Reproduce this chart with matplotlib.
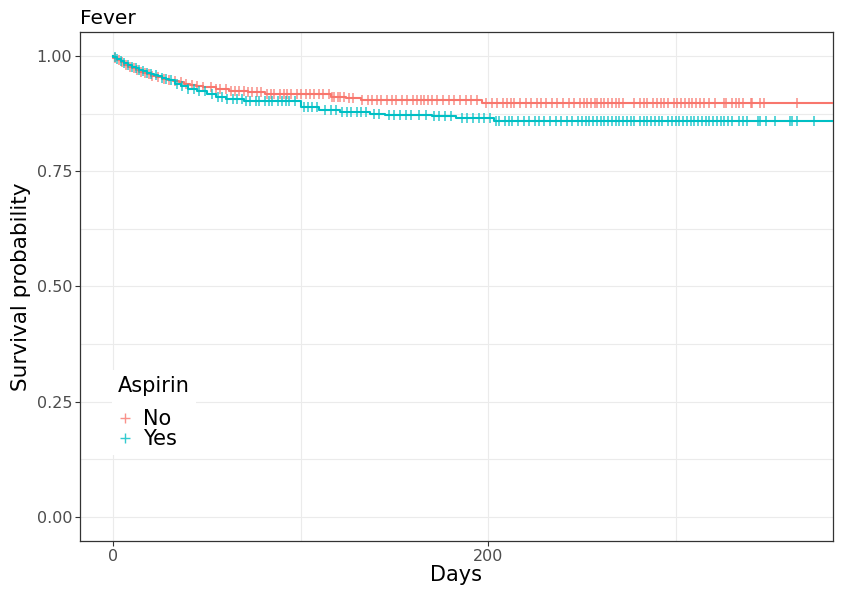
import numpy as np
import matplotlib.pyplot as plt
from matplotlib.lines import Line2D
from matplotlib.ticker import MultipleLocator

# step points of the two Kaplan-Meier curves (day, survival after the drop)
no_times = [0, 2, 4, 6, 8, 10, 12, 14, 16, 18, 20, 23, 26, 29, 32, 35, 38, 41, 44,
            48, 55, 62, 72, 81, 116, 124, 132, 197]
no_surv = [0.996, 0.991, 0.986, 0.981, 0.977, 0.973, 0.969, 0.966, 0.963, 0.960,
           0.957, 0.954, 0.951, 0.948, 0.946, 0.943, 0.940, 0.937, 0.935, 0.932,
           0.929, 0.925, 0.922, 0.918, 0.912, 0.908, 0.904, 0.897]

yes_times = [0, 2, 4, 6, 8, 10, 12, 14, 16, 18, 20, 22, 24, 26, 28, 30, 33, 36, 40,
             45, 50, 55, 60, 70, 100, 110, 121, 137, 145, 170, 183, 203]
yes_surv = [0.998, 0.993, 0.989, 0.985, 0.981, 0.977, 0.973, 0.970, 0.967, 0.964,
            0.961, 0.958, 0.956, 0.953, 0.951, 0.948, 0.940, 0.934, 0.929, 0.923,
            0.918, 0.912, 0.907, 0.902, 0.890, 0.883, 0.879, 0.875, 0.872, 0.869,
            0.865, 0.858]

# censored observations (days)
no_cens = [1, 3, 5, 7, 9, 11, 13, 15, 17, 19, 21, 24, 27, 30, 33, 36, 39, 42, 45, 48,
           52, 55, 57, 60, 63, 65, 67, 70, 72, 74, 77, 79, 82, 84, 86, 89, 91, 93, 95,
           98, 100, 103, 105, 107, 110, 112, 115, 117, 118, 120, 121, 123, 126, 128,
           133, 136, 138, 141, 143, 146, 149, 151, 154, 157, 160, 162, 164, 166, 168,
           170, 173, 176, 179, 182, 185, 188, 191, 194, 199, 202, 205, 208, 210, 212,
           214, 217, 220, 223, 226, 228, 231, 234, 237, 240, 243, 246, 249, 251, 253,
           255, 257, 258, 260, 262, 264, 266, 268, 270, 272, 278, 281, 283, 285, 288,
           290, 292, 294, 296, 299, 301, 303, 305, 307, 309, 311, 313, 315, 318, 321,
           326, 327, 330, 332, 334, 336, 340, 341, 345, 347, 365]
yes_cens = [1, 2, 4, 6, 8, 10, 12, 14, 16, 18, 20, 23, 26, 28, 31, 34, 37, 40, 43, 46,
            49, 53, 56, 58, 61, 64, 66, 69, 71, 73, 76, 78, 81, 83, 85, 88, 90, 92, 94,
            97, 102, 104, 106, 109, 113, 116, 119, 122, 125, 127, 130, 132, 135, 139,
            142, 147, 150, 153, 156, 159, 163, 167, 171, 174, 177, 180, 186, 189, 192,
            195, 198, 201, 204, 206, 209, 211, 213, 216, 219, 222, 225, 227, 230, 233,
            236, 239, 242, 245, 248, 250, 252, 254, 256, 258, 260, 262, 264, 266, 268,
            270, 272, 274, 276, 278, 281, 283, 285, 287, 289, 291, 293, 296, 298, 300,
            302, 304, 306, 308, 310, 312, 314, 316, 318, 320, 322, 324, 326, 328, 330,
            334, 336, 338, 344, 345, 348, 353, 361, 362, 365, 374]

groups = ["No", "Yes"]
colors = ["#F8766D", "#00BFC4"]
x_end = 384


def surv_at(times, surv, t):
    idx = np.searchsorted(times, t, side="right") - 1
    return np.array(surv)[np.clip(idx, 0, None)]


fig = plt.figure(figsize=(8.43, 5.92), dpi=100)
ax = fig.add_axes([80 / 843, 1 - 541 / 592, 753 / 843, 509 / 592])

data = [(no_times, no_surv, no_cens), (yes_times, yes_surv, yes_cens)]
for (tt, ss, cc), col in zip(data, colors):
    xs = [0] + list(tt) + [x_end]
    ys = [1.0] + list(ss) + [ss[-1]]
    ax.step(xs, ys, where="post", color=col, lw=1.5, zorder=3)
    ax.plot(cc, surv_at(tt, ss, cc), ls="none", marker="|", ms=7.5, mew=1.3,
            color=col, alpha=0.7, zorder=3)

ax.set_xlim(-17.6, x_end)
ax.set_ylim(-0.052, 1.052)
ax.xaxis.set_major_locator(MultipleLocator(200))
ax.xaxis.set_minor_locator(MultipleLocator(100))
ax.yaxis.set_major_locator(MultipleLocator(0.25))
ax.yaxis.set_minor_locator(MultipleLocator(0.125))
ax.set_yticklabels([f"{v:.2f}" for v in ax.get_yticks()])
ax.grid(which="both", color="#EBEBEB", lw=0.8, zorder=0)
ax.tick_params(which="major", labelsize=11.5, labelcolor="#4D4D4D",
               color="#333333", length=3.5, width=0.8, pad=2)
ax.tick_params(which="minor", length=0)
for sp in ax.spines.values():
    sp.set_color("#333333")
    sp.set_linewidth(0.9)

ax.set_xlabel("Days", fontsize=15, labelpad=1)
ax.set_ylabel("Survival probability", fontsize=15.5, labelpad=4)
ax.set_title("Fever", fontsize=14.5, loc="left", pad=6)

handles = [Line2D([], [], ls="none", marker="+", ms=7, mew=1.0, color=c, alpha=0.8)
           for c in colors]
leg = ax.legend(handles, groups, title="Aspirin", loc="upper left",
                bbox_to_anchor=(0.028, 0.356), fontsize=15, title_fontsize=15,
                frameon=True, fancybox=False, edgecolor="none", framealpha=1,
                handlelength=0.7, handletextpad=0.5, labelspacing=0.0,
                borderpad=0.3)
leg._legend_box.align = "left"
leg._legend_box.sep = 9

fig.savefig("out.png", dpi=100)
